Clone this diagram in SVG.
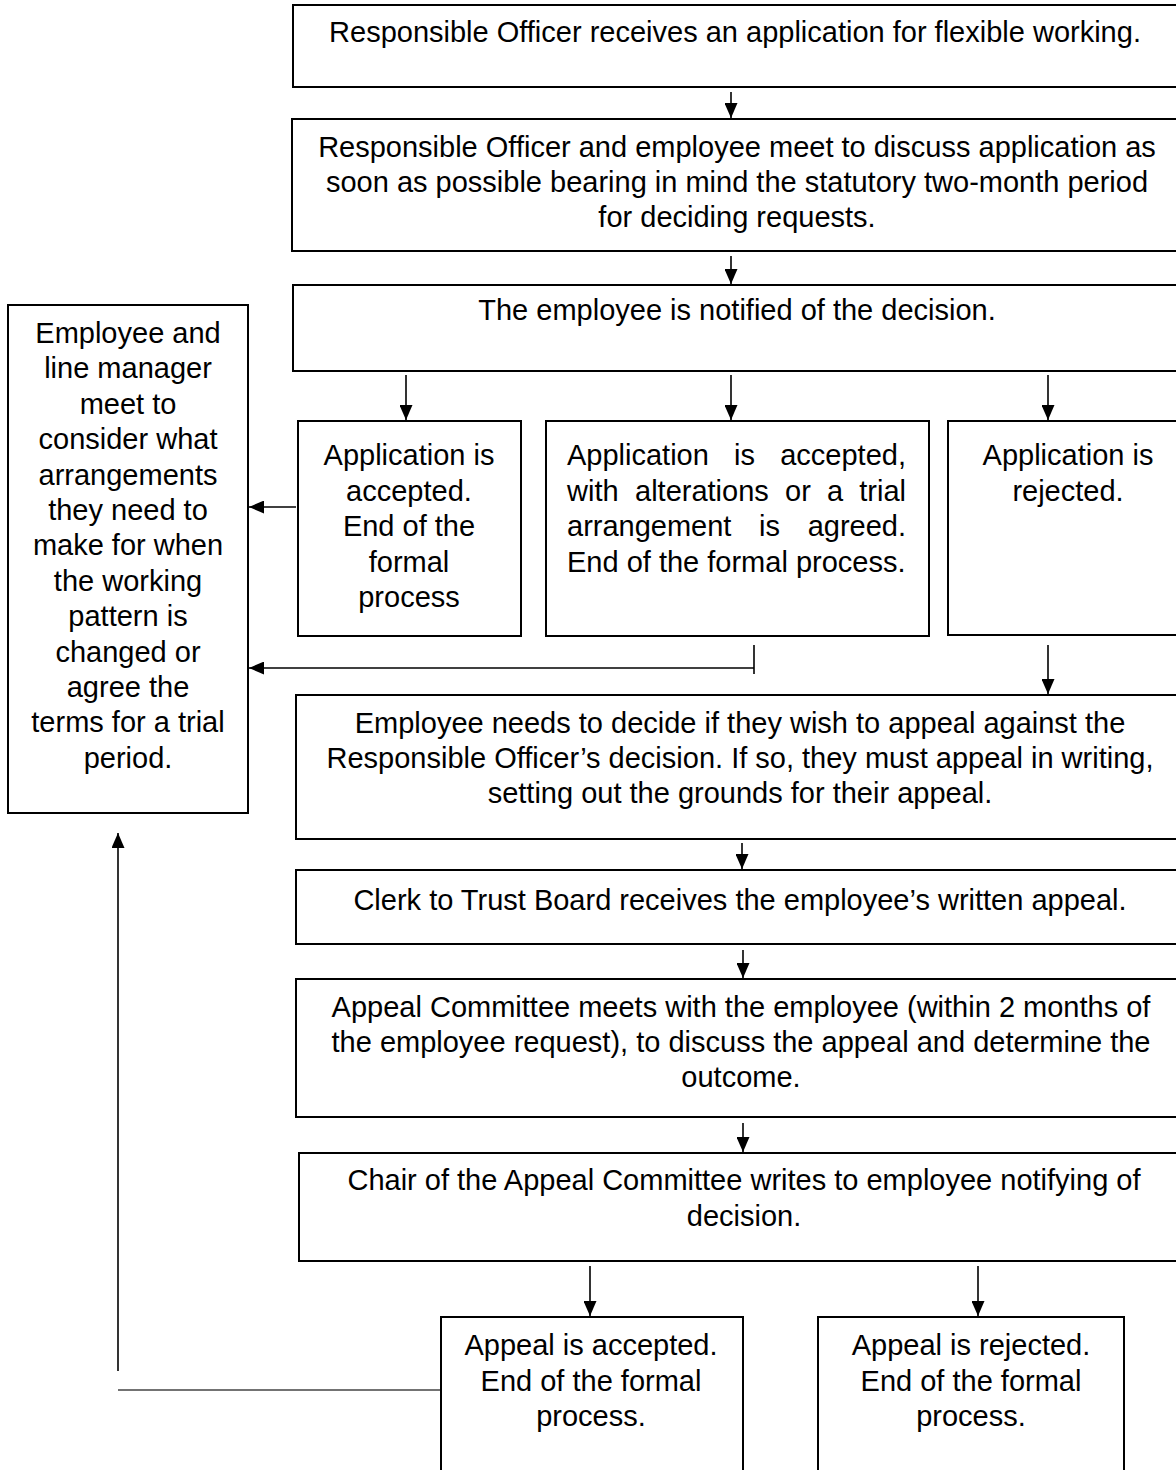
<svg xmlns="http://www.w3.org/2000/svg" width="1176" height="1470" viewBox="0 0 1176 1470">
<style>
.box{fill:#fff;stroke:#000;stroke-width:2}
text{font-family:"Liberation Sans",Arial,sans-serif;font-size:29px;fill:#000}
.c{text-anchor:middle}
.ln{stroke:#000;stroke-width:1.6;fill:none}
</style>
<defs>
<marker id="ah" markerUnits="userSpaceOnUse" markerWidth="15" markerHeight="13" refX="15" refY="6.5" orient="auto" viewBox="0 0 15 13">
<path d="M0,0 L15,6.5 L0,13 Z" fill="#000"/>
</marker>
</defs>
<rect width="1176" height="1470" fill="#fff"/>
<g id="connectors">
<line class="ln" x1="731" y1="92" x2="731" y2="118" marker-end="url(#ah)"/>
<line class="ln" x1="731" y1="256" x2="731" y2="284" marker-end="url(#ah)"/>
<line class="ln" x1="406" y1="375" x2="406" y2="420" marker-end="url(#ah)"/>
<line class="ln" x1="731" y1="375" x2="731" y2="420" marker-end="url(#ah)"/>
<line class="ln" x1="1048" y1="375" x2="1048" y2="420" marker-end="url(#ah)"/>
<line class="ln" x1="296" y1="507" x2="249" y2="507" marker-end="url(#ah)"/>
<line class="ln" x1="754" y1="645" x2="754" y2="674"/>
<line class="ln" x1="754" y1="668" x2="249" y2="668" marker-end="url(#ah)"/>
<line class="ln" x1="1048" y1="645" x2="1048" y2="694" marker-end="url(#ah)"/>
<line class="ln" x1="742" y1="843" x2="742" y2="869" marker-end="url(#ah)"/>
<line class="ln" x1="743" y1="950" x2="743" y2="978" marker-end="url(#ah)"/>
<line class="ln" x1="743" y1="1123" x2="743" y2="1152" marker-end="url(#ah)"/>
<line class="ln" x1="590" y1="1266" x2="590" y2="1316" marker-end="url(#ah)"/>
<line class="ln" x1="978" y1="1266" x2="978" y2="1316" marker-end="url(#ah)"/>
<line class="ln" x1="118" y1="1371" x2="118" y2="833" stroke-width="2" marker-end="url(#ah)"/>
<line x1="441" y1="1390" x2="118" y2="1390" stroke="#444" stroke-width="1.6"/>
</g>
<g id="n1">
<rect class="box" x="293" y="5" width="890" height="82"/>
<text class="c" x="735" y="42">Responsible Officer receives an application for flexible working.</text>
</g>
<g id="n2">
<rect class="box" x="292" y="119" width="890" height="132"/>
<text class="c" x="737" y="157">Responsible Officer and employee meet to discuss application as</text>
<text class="c" x="737" y="192">soon as possible bearing in mind the statutory two-month period</text>
<text class="c" x="737" y="227">for deciding requests.</text>
</g>
<g id="n3">
<rect class="box" x="293" y="285" width="890" height="86"/>
<text class="c" x="737" y="320">The employee is notified of the decision.</text>
</g>
<g id="n4">
<rect class="box" x="298" y="421" width="223" height="215"/>
<text class="c" x="409" y="465">Application is</text>
<text class="c" x="409" y="500.5">accepted.</text>
<text class="c" x="409" y="536">End of the</text>
<text class="c" x="409" y="571.5">formal</text>
<text class="c" x="409" y="607">process</text>
</g>
<g id="n5">
<rect class="box" x="546" y="421" width="383" height="215"/>
<text y="465"><tspan x="567">Application</tspan><tspan x="734">is</tspan><tspan x="906" text-anchor="end">accepted,</tspan></text>
<text y="500.5"><tspan x="567">with</tspan><tspan x="635">alterations</tspan><tspan x="785">or</tspan><tspan x="827">a</tspan><tspan x="906" text-anchor="end">trial</tspan></text>
<text y="536"><tspan x="567">arrangement</tspan><tspan x="759">is</tspan><tspan x="906" text-anchor="end">agreed.</tspan></text>
<text x="567" y="571.5">End of the formal process.</text>
</g>
<g id="n6">
<rect class="box" x="948" y="421" width="235" height="214"/>
<text class="c" x="1068" y="465">Application is</text>
<text class="c" x="1068" y="500.5">rejected.</text>
</g>
<g id="n7">
<rect class="box" x="8" y="305" width="240" height="508"/>
<text class="c" x="128" y="343">Employee and</text>
<text class="c" x="128" y="378.4">line manager</text>
<text class="c" x="128" y="413.8">meet to</text>
<text class="c" x="128" y="449.2">consider what</text>
<text class="c" x="128" y="484.6">arrangements</text>
<text class="c" x="128" y="520">they need to</text>
<text class="c" x="128" y="555.4">make for when</text>
<text class="c" x="128" y="590.8">the working</text>
<text class="c" x="128" y="626.2">pattern is</text>
<text class="c" x="128" y="661.6">changed or</text>
<text class="c" x="128" y="697">agree the</text>
<text class="c" x="128" y="732.4">terms for a trial</text>
<text class="c" x="128" y="767.8">period.</text>
</g>
<g id="n8">
<rect class="box" x="296" y="695" width="890" height="144"/>
<text class="c" x="740" y="733">Employee needs to decide if they wish to appeal against the</text>
<text class="c" x="740" y="768">Responsible Officer’s decision. If so, they must appeal in writing,</text>
<text class="c" x="740" y="803">setting out the grounds for their appeal.</text>
</g>
<g id="n9">
<rect class="box" x="296" y="870" width="890" height="74"/>
<text class="c" x="740" y="910">Clerk to Trust Board receives the employee’s written appeal.</text>
</g>
<g id="n10">
<rect class="box" x="296" y="979" width="890" height="138"/>
<text class="c" x="741" y="1017">Appeal Committee meets with the employee (within 2 months of</text>
<text class="c" x="741" y="1052">the employee request), to discuss the appeal and determine the</text>
<text class="c" x="741" y="1087">outcome.</text>
</g>
<g id="n11">
<rect class="box" x="299" y="1153" width="890" height="108"/>
<text class="c" x="744" y="1190">Chair of the Appeal Committee writes to employee notifying of</text>
<text class="c" x="744" y="1225.5">decision.</text>
</g>
<g id="n12">
<rect class="box" x="441" y="1317" width="302" height="170"/>
<text class="c" x="591" y="1355">Appeal is accepted.</text>
<text class="c" x="591" y="1390.5">End of the formal</text>
<text class="c" x="591" y="1426">process.</text>
</g>
<g id="n13">
<rect class="box" x="818" y="1317" width="306" height="170"/>
<text class="c" x="971" y="1355">Appeal is rejected.</text>
<text class="c" x="971" y="1390.5">End of the formal</text>
<text class="c" x="971" y="1426">process.</text>
</g>
</svg>
